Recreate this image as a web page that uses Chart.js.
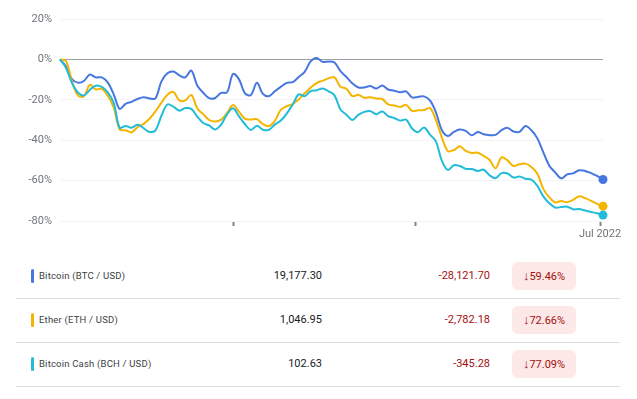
<!DOCTYPE html>
<html>
<head>
<meta charset="utf-8">
<script src="https://cdn.jsdelivr.net/npm/chart.js@4.4.1/dist/chart.umd.min.js"></script>
<style>
  body { margin: 0; background: #fff; font-family: Roboto, "Noto Sans", sans-serif; }
  #wrap { position: relative; width: 637px; height: 399px; overflow: hidden; }
  #chartBox { position: absolute; left: 0; top: 0; width: 637px; height: 250px; }
  .row { position: absolute; left: 16px; width: 604px; height: 44px; border-bottom: 1px solid #dadce0; }
  .bar { position: absolute; left: 15px; top: 15px; width: 3px; height: 14px; border-radius: 2px; }
  .name { position: absolute; left: 23px; top: 0; line-height: 44px; font-size: 9.5px; color: #3c4043; letter-spacing: 0.2px; }
  .price { position: absolute; right: 298px; top: 0; line-height: 44px; font-size: 11px; color: #202124; }
  .chg { position: absolute; right: 130px; top: 0; line-height: 44px; font-size: 11px; color: #a50e0e; }
  .pill { position: absolute; left: 496px; top: 8px; width: 64px; height: 28px; border-radius: 6px;
          background: #fce8e6; color: #a50e0e; font-size: 11px; line-height: 28px; text-align: center; }
  .pill b { font-size: 13px; font-weight: bold; }
</style>
</head>
<body>
<div id="wrap">
  <div id="chartBox"><canvas id="cmp"></canvas></div>
  <div id="table"></div>
</div>
<script>
// day of 2022 (0 = Jan 1), sampled every two days
const days = [0,2,4,6,8,10,12,14,16,18,20,22,24,26,28,30,32,34,36,38,40,42,44,46,48,50,52,54,56,58,60,62,64,66,68,70,72,74,76,78,80,82,84,86,88,90,92,94,96,98,100,102,104,106,108,110,112,114,116,118,120,122,124,126,128,130,132,134,136,138,140,142,144,146,148,150,152,154,156,158,160,162,164,166,168,170,172,174,176,178,180,182];

// % change since start
const btc = [0,-3.5,-9.7,-11.5,-10.7,-7.5,-8.9,-8.9,-11.4,-17.3,-24.5,-22.0,-21.0,-19.6,-18.7,-19.3,-19.3,-10.9,-6.9,-6.0,-7.9,-8.9,-5.5,-12.9,-16.5,-19.2,-19.1,-16.6,-16.3,-7.2,-9.9,-16.8,-17.6,-11.6,-17.1,-18.2,-15.8,-13.6,-11.6,-11.3,-8.7,-6.2,-1.0,0.7,-1.2,-1.1,-1.5,-5.8,-8.7,-11.9,-13.9,-13.9,-13.2,-14.4,-12.9,-14.9,-15.5,-16.3,-15.8,-18.8,-18.6,-18.3,-20.3,-26.2,-35.1,-37.9,-35.9,-34.7,-35.4,-37.6,-36.0,-37.1,-37.5,-37.4,-35.0,-33.9,-35.7,-35.9,-33.0,-35.1,-39.1,-46.0,-52.6,-56.0,-58.9,-56.9,-56.4,-54.9,-55.2,-56.3,-57.7,-59.46];
const eth = [0,-0.8,-10.9,-17.8,-18.3,-12.6,-14.9,-14.6,-18.0,-23.8,-34.7,-35.1,-36.1,-33.5,-31.9,-29.4,-25.7,-21.4,-17.5,-16.1,-20.3,-20.3,-17.6,-24.2,-27.1,-30.0,-30.8,-29.8,-26.5,-22.6,-25.9,-29.4,-29.7,-29.6,-32.0,-33.0,-30.4,-25.0,-23.2,-22.1,-19.8,-16.8,-14.0,-11.7,-10.6,-9.4,-8.9,-13.5,-14.5,-18.2,-17.5,-19.0,-18.7,-19.4,-19.6,-22.3,-22.8,-23.5,-22.5,-25.5,-25.2,-25.1,-24.1,-30.0,-38.7,-45.4,-44.9,-43.0,-45.3,-46.3,-46.2,-47.8,-49.8,-53.9,-48.5,-50.0,-52.8,-51.9,-51.6,-53.3,-56.6,-64.1,-68.3,-70.8,-70.1,-70.7,-69.5,-67.7,-68.7,-70.0,-71.5,-72.66];
const bch = [0,-4.2,-11.6,-16.4,-17.8,-15.1,-13.0,-13.6,-16.3,-21.5,-33.8,-33.0,-33.8,-32.3,-34.0,-35.9,-35.1,-27.9,-22.3,-23.4,-25.4,-24.1,-24.5,-28.3,-31.5,-32.7,-34.7,-32.3,-27.2,-24.2,-28.2,-32.1,-34.9,-32.8,-34.8,-34.9,-32.3,-30.3,-26.8,-22.3,-17.3,-18.2,-15.7,-15.3,-14.4,-15.8,-17.8,-24.8,-27.4,-30.0,-27.5,-26.0,-25.6,-27.1,-25.8,-28.1,-29.0,-30.3,-29.8,-34.2,-36.0,-33.7,-37.2,-40.6,-50.2,-54.7,-52.4,-52.8,-54.2,-54.3,-55.2,-54.6,-57.4,-58.8,-56.3,-56.5,-58.5,-58.0,-59.1,-59.5,-62.6,-67.8,-71.2,-73.3,-73.1,-72.9,-74.2,-74.1,-74.8,-75.5,-76.2,-77.09];

const yTicks = [20, 0, -20, -40, -60, -80];
const xTickDays = [58, 119, 181];
const xTickLabels = ['', '', 'Jul 2022'];

const names = ['Bitcoin (BTC / USD)', 'Ether (ETH / USD)', 'Bitcoin Cash (BCH / USD)'];
const prices = ['19,177.30', '1,046.95', '102.63'];
const changes = ['-28,121.70', '-2,782.18', '-345.28'];
const pcts = ['59.46%', '72.66%', '77.09%'];
const colors = ['#4676e0', '#f4b400', '#22bcd9'];

function series(vals, col) {
  const last = vals.length - 1;
  return {
    data: vals.map((v, i) => ({ x: days[i], y: v })),
    borderColor: col,
    backgroundColor: col,
    borderWidth: 2,
    tension: 0.35,
    clip: false,
    pointRadius: c => c.dataIndex === last ? 4.5 : 0,
    pointHoverRadius: 0,
    pointBorderWidth: 0
  };
}

new Chart(document.getElementById('cmp'), {
  type: 'line',
  data: { datasets: [series(bch, colors[2]), series(eth, colors[1]), series(btc, colors[0])] },
  options: {
    responsive: true,
    maintainAspectRatio: false,
    animation: false,
    layout: { padding: { left: 0, right: 34, top: 19, bottom: 0 } },
    plugins: { legend: { display: false }, tooltip: { enabled: false } },
    scales: {
      x: {
        type: 'linear', min: 0, max: 182,
        afterBuildTicks: a => { a.ticks = xTickDays.map(v => ({ value: v })); },
        afterFit: a => { a.height = 29; },
        ticks: {
          autoSkip: false, maxRotation: 0, padding: 2,
          color: '#70757a', font: { family: 'Roboto', size: 11 },
          callback: v => xTickLabels[xTickDays.indexOf(v)]
        },
        grid: { drawOnChartArea: false, drawTicks: true, tickLength: 5, tickColor: '#80868b', tickWidth: 2 },
        border: { display: false }
      },
      y: {
        min: -80, max: 20,
        afterBuildTicks: a => { a.ticks = yTicks.map(v => ({ value: v })); },
        afterFit: a => { a.width = 60; },
        ticks: { color: '#70757a', padding: 8, font: { family: 'Roboto', size: 11 }, callback: v => v + '%' },
        grid: { drawTicks: false, color: c => c.tick.value === 0 ? '#9aa0a6' : '#f1f3f4', lineWidth: 1 },
        border: { display: false }
      }
    }
  }
});

const tbl = document.getElementById('table');
names.forEach((n, i) => {
  const r = document.createElement('div');
  r.className = 'row';
  r.style.top = (254 + i * 44) + 'px';
  r.innerHTML = '<div class="bar" style="background:' + colors[i] + '"></div>' +
    '<div class="name">' + n + '</div>' +
    '<div class="price">' + prices[i] + '</div>' +
    '<div class="chg">' + changes[i] + '</div>' +
    '<div class="pill"><b>\u2193</b>' + pcts[i] + '</div>';
  tbl.appendChild(r);
});
</script>
</body>
</html>
